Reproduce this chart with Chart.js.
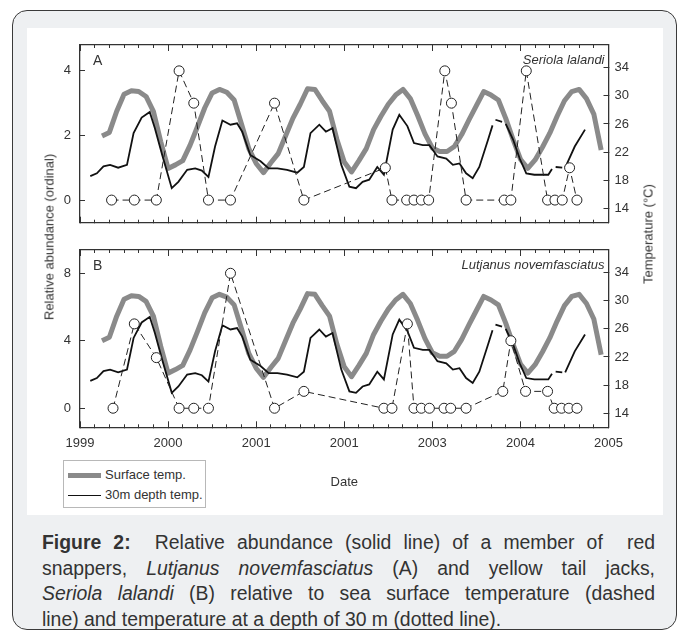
<!DOCTYPE html>
<html>
<head>
<meta charset="utf-8">
<title>Figure 2</title>
<script src="https://cdn.jsdelivr.net/npm/chart.js@4.4.1/dist/chart.umd.min.js"></script>
<style>
  html, body { margin: 0; padding: 0; background: #fff; }
  body { position: relative; width: 681px; height: 637px; overflow: hidden; font-family: "Liberation Sans", Arial, sans-serif; color: #333; }
  #frame { position: absolute; left: 12px; top: 10px; width: 665px; height: 620px; box-sizing: border-box; border: 1.5px solid #3a3a3a; border-radius: 15px; background: #eef0f2; }
  #panel { position: absolute; left: 27px; top: 28px; width: 636px; height: 487px; background: #fff; }
  canvas { position: absolute; }
  #chartA { left: 27px; top: 28px; }
  #chartB { left: 27px; top: 240px; }
  .vtitle { position: absolute; font-size: 13px; white-space: nowrap; transform: translate(-50%, -50%) rotate(-90deg); }
  #legend { position: absolute; left: 63px; top: 460px; width: 143px; height: 48px; box-sizing: border-box; border: 1px solid #b8b8b8; background: #fff; font-size: 13px; }
  #legend .item { position: absolute; left: 4px; height: 16px; line-height: 16px; white-space: nowrap; }
  #legend .sw { display: inline-block; width: 33px; vertical-align: middle; margin-right: 4px; }
  #caption { position: absolute; left: 42px; top: 530px; width: 613px; font-size: 19.4px; line-height: 25.7px; color: #333; }
  #caption div { text-align: justify; text-align-last: justify; white-space: nowrap; }
  #caption div.last { text-align-last: left; }
</style>
</head>
<body>
<div id="frame"></div>
<div id="panel"></div>
<canvas id="chartA" width="636" height="212"></canvas>
<canvas id="chartB" width="636" height="275"></canvas>
<div class="vtitle" style="left:49px; top:237px;">Relative abundance (ordinal)</div>
<div class="vtitle" style="left:648px; top:234px;">Temperature (°C)</div>
<div id="legend"></div>
<div id="caption">
  <div><b>Figure 2:</b>&nbsp; Relative abundance (solid line) of a member of &nbsp;red</div>
  <div>snappers, <i>Lutjanus novemfasciatus</i> (A) and yellow tail jacks,</div>
  <div><i>Seriola lalandi</i> (B) relative to sea surface temperature (dashed</div>
  <div class="last">line) and temperature at a depth of 30 m (dotted line).</div>
</div>
<script>
// x axis is in months counted from Jan 1999
const yearTickMonths = [0, 12, 24, 36, 48, 60, 72];
const yearTickLabels = ['1999', '2000', '2001', '2001', '2003', '2004', '2005'];
const minorTickMonths = [0, 2, 4, 6, 8, 10, 12, 14, 16, 18, 20, 22, 24, 26, 28, 30, 32, 34, 36,
  38, 40, 42, 44, 46, 48, 50, 52, 54, 56, 58, 60, 62, 64, 66, 68, 70, 72];
const abundanceTicksA = [0, 2, 4];
const abundanceTicksB = [0, 4, 8];
const tempTicks = [14, 18, 22, 26, 30, 34];

// [month, deg C]
const surfaceTemp = [
  [3, 24.3], [4, 24.8], [5, 27.8], [6, 30.2], [7, 30.7], [8, 30.6], [9, 29.9], [10, 27.8],
  [11, 23.5], [12, 19.7], [13, 20.2], [14, 20.8], [15, 23.0], [16, 25.6], [17, 28.3], [18, 30.4],
  [19, 30.9], [20, 30.5], [21, 29.4], [22, 26.0], [23, 22.5], [24, 20.4], [25, 19.1], [26, 20.5],
  [27, 21.8], [28, 24.3], [29, 26.8], [30, 28.8], [31, 31.0], [32, 30.9], [33, 29.3], [34, 27.8],
  [35, 23.8], [36, 20.6], [37, 19.2], [38, 20.8], [39, 22.5], [40, 25.2], [41, 27.1], [42, 28.8],
  [43, 30.1], [44, 30.9], [45, 29.6], [46, 27.2], [47, 24.6], [48, 22.6], [49, 22.1], [50, 22.1],
  [51, 22.8], [52, 24.5], [53, 26.6], [54, 28.6], [55, 30.6], [56, 30.1], [57, 29.4], [58, 26.8],
  [59, 23.8], [60, 21.0], [61, 19.7], [62, 20.9], [63, 22.7], [64, 24.7], [65, 27.1], [66, 29.3],
  [67, 30.6], [68, 30.9], [69, 29.6], [70, 27.4], [71, 22.3]
];
// null = missing reading (gap in line)
const depthTemp = [
  [1.4, 18.6], [2.3, 19.0], [3.2, 20.0], [4.1, 20.2], [5.2, 19.8], [6.4, 20.2], [7.3, 24.7],
  [8.4, 26.9], [9.5, 27.7], [10.2, 25.4], [11.2, 21.6], [12.5, 16.9], [13.4, 17.8], [14.6, 19.5],
  [15.7, 19.7], [16.6, 19.4], [17.5, 18.5], [18.4, 22.8], [19.4, 26.5], [20.5, 25.9], [21.4, 26.1],
  [22.1, 24.9], [23.2, 21.6], [24.6, 20.7], [25.7, 19.7], [26.9, 19.7], [28.2, 19.5], [29.6, 19.1],
  [30.5, 19.9], [31.4, 24.7], [32.6, 25.9], [33.5, 24.9], [34.4, 25.4], [35.6, 20.2], [36.7, 17.1],
  [37.6, 16.9], [38.5, 17.8], [39.4, 18.1], [40.5, 19.9], [41.4, 18.8], [42.6, 25.2], [43.5, 27.3],
  [44.6, 25.7], [45.5, 23.3], [46.7, 23.0], [47.6, 23.0], [48.7, 21.4], [49.9, 21.1], [50.8, 20.2],
  [51.7, 20.4], [52.6, 19.0], [53.5, 18.3], [54.4, 19.9], [55.6, 23.8], [56.2, 25.8], [56.3, null],
  [56.6, 26.6], [57.5, 26.3], [57.7, null], [58.0, 26.0], [59.0, 23.8], [59.9, 21.1], [60.8, 19.0],
  [61.9, 18.8], [63.8, 18.8], [64.3, 19.6], [64.5, null], [64.8, 19.9], [65.7, 19.8], [65.9, null],
  [66.1, 19.8], [67.4, 22.8], [68.8, 25.2]
];
// [month, ordinal abundance]
const seriolaAbundance = [
  [4.3, 0], [7.4, 0], [10.4, 0], [13.5, 4], [15.5, 3], [17.5, 0], [20.5, 0], [26.5, 3], [30.5, 0],
  [41.6, 1], [42.5, 0], [44.5, 0], [45.5, 0], [46.5, 0], [47.5, 0], [49.7, 4], [50.6, 3], [52.6, 0],
  [57.8, 0], [58.7, 0], [60.8, 4], [63.7, 0], [64.7, 0], [65.7, 0], [66.7, 1], [67.7, 0]
];
const lutjanusAbundance = [
  [4.5, 0], [7.4, 5], [10.4, 3], [13.5, 0], [15.5, 0], [17.5, 0], [20.5, 8], [26.5, 0], [30.5, 1],
  [41.4, 0], [42.5, 0], [44.6, 5], [45.5, 0], [46.5, 0], [47.6, 0], [49.6, 0], [50.5, 0], [52.6, 0],
  [57.6, 1], [58.7, 4], [60.7, 1], [63.7, 1], [64.6, 0], [65.6, 0], [66.6, 0], [67.7, 0]
];

const FONT = '"Liberation Sans", Arial, sans-serif';
const axisColor = '#333';
Chart.defaults.font.family = FONT;
Chart.defaults.font.size = 13;
Chart.defaults.color = '#333';

const toXY = pairs => pairs.map(([x, y]) => ({ x, y }));
const setTicks = list => s => { s.ticks = list.map(v => ({ value: v })); };
// fixed axis size, and no extra label padding pushed into the layout
const fixSize = (key, size) => s => {
  s[key] = size;
  s.paddingTop = s.paddingBottom = s.paddingLeft = s.paddingRight = 0;
};

// panel letter + species name inside the plot box
const panelLabel = {
  id: 'panelLabel',
  afterDatasetsDraw(chart, args, opts) {
    const { ctx, chartArea: a } = chart;
    ctx.save();
    ctx.fillStyle = '#333';
    ctx.textBaseline = 'middle';
    ctx.font = '14px ' + FONT;
    ctx.textAlign = 'left';
    ctx.fillText(opts.letter, a.left + 13, a.top + 16);
    ctx.font = 'italic 13px ' + FONT;
    ctx.textAlign = 'right';
    ctx.fillText(opts.species, a.right - 4, a.top + 15);
    ctx.restore();
  }
};

function xAxis(position, list, tl, weight, extra) {
  return Object.assign({
    type: 'linear', position, min: 0, max: 72, weight,
    afterBuildTicks: setTicks(list),
    afterFit: fixSize('height', 0),
    ticks: { display: false, autoSkip: false, maxRotation: 0 },
    grid: { drawOnChartArea: false, tickLength: tl, tickColor: axisColor, tickWidth: 1 },
    border: { display: false }
  }, extra || {});
}

function makeChart(id, p) {
  const scales = {
    x: xAxis('bottom', minorTickMonths, -3, 0, { border: { color: axisColor, width: 1.3 } }),
    xYear: xAxis('bottom', yearTickMonths, -6, 1),
    xTop: xAxis('top', minorTickMonths, -3, 0, { border: { color: axisColor, width: 1.3 } }),
    xTopYear: xAxis('top', yearTickMonths, -6, 1),
    y: {
      type: 'linear', position: 'left', min: p.yMin, max: p.yMax,
      afterBuildTicks: setTicks(p.yTicks),
      afterFit: fixSize('width', 53),
      ticks: { padding: 14 },
      grid: { drawOnChartArea: false, tickLength: -5, tickColor: axisColor },
      border: { color: axisColor, width: 1.3 }
    },
    yT: {
      type: 'linear', position: 'right', min: 12, max: 37.2,
      afterBuildTicks: setTicks(tempTicks),
      afterFit: fixSize('width', 54.5),
      ticks: { padding: 11 },
      grid: { drawOnChartArea: false, tickLength: -5, tickColor: axisColor },
      border: { color: axisColor, width: 1.3 }
    }
  };
  if (p.showYears) {
    scales.xYear.ticks = {
      display: true, autoSkip: false, maxRotation: 0, padding: 14,
      callback: v => yearTickLabels[yearTickMonths.indexOf(v)]
    };
    scales.xYear.title = { display: true, text: 'Date', padding: { top: 0, bottom: 25 } };
    scales.xYear.afterFit = fixSize('height', 87.7);
  }
  return new Chart(document.getElementById(id), {
    type: 'line',
    data: {
      datasets: [
        {
          label: 'Relative abundance', data: toXY(p.abundance), yAxisID: 'y',
          borderColor: '#222', borderWidth: 1, borderDash: [7, 4],
          pointRadius: 5, pointBackgroundColor: '#fff', pointBorderColor: '#222', pointBorderWidth: 1
        },
        {
          label: '30m depth temp.', data: toXY(depthTemp), yAxisID: 'yT',
          borderColor: '#111', borderWidth: 1.8, pointRadius: 0, spanGaps: false
        },
        {
          label: 'Surface temp.', data: toXY(surfaceTemp), yAxisID: 'yT',
          borderColor: '#8a8a8a', borderWidth: 5, pointRadius: 0, borderJoinStyle: 'round'
        }
      ]
    },
    options: {
      responsive: false, animation: false, events: [],
      layout: { padding: p.padding },
      scales,
      plugins: {
        legend: { display: false },
        tooltip: { enabled: false },
        panelLabel: { letter: p.letter, species: p.species }
      }
    },
    plugins: [panelLabel]
  });
}

makeChart('chartA', {
  abundance: seriolaAbundance, yMin: -0.7, yMax: 4.8, yTicks: abundanceTicksA,
  letter: 'A', species: 'Seriola lalandi', showYears: false,
  padding: { top: 17, bottom: 17.3, left: 0, right: 0 }
});
const chartB = makeChart('chartB', {
  abundance: lutjanusAbundance, yMin: -1.13, yMax: 9.38, yTicks: abundanceTicksB,
  letter: 'B', species: 'Lutjanus novemfasciatus', showYears: true,
  padding: { top: 10, bottom: 0, left: 0, right: 0 }
});

// legend box built from the temperature datasets
const legend = document.getElementById('legend');
['Surface temp.', '30m depth temp.'].forEach((name, i) => {
  const ds = chartB.data.datasets.find(d => d.label === name);
  const item = document.createElement('div');
  item.className = 'item';
  item.style.top = (6 + i * 20) + 'px';
  const sw = document.createElement('span');
  sw.className = 'sw';
  sw.style.borderTop = ds.borderWidth + 'px solid ' + ds.borderColor;
  item.appendChild(sw);
  item.appendChild(document.createTextNode(name));
  legend.appendChild(item);
});
</script>
</body>
</html>
